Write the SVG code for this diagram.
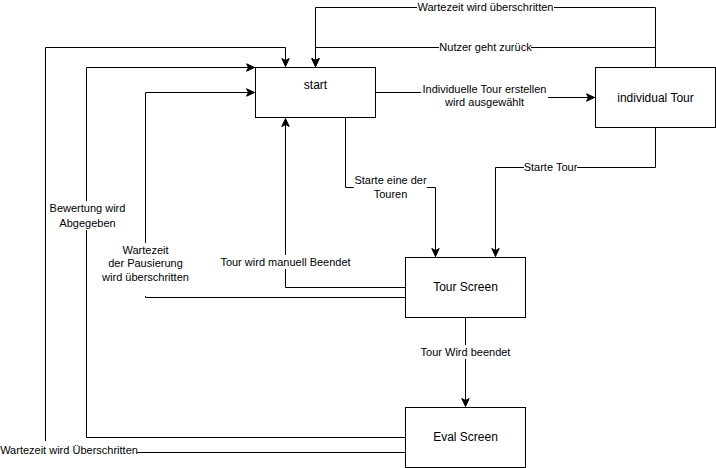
<svg xmlns="http://www.w3.org/2000/svg" width="716" height="468" viewBox="0 0 716 468">
<style>
.box{fill:#fff;stroke:#000;stroke-width:1}
.edge{fill:none;stroke:#000;stroke-width:1}
.bg{fill:#fff;stroke:none}
.nt{font-family:"Liberation Sans",Arial,sans-serif;font-size:12px;text-anchor:middle;fill:#000}
.lt{font-family:"Liberation Sans",Arial,sans-serif;font-size:11px;text-anchor:middle;fill:#000}
</style>
<defs>
<marker id="arr" markerUnits="userSpaceOnUse" markerWidth="9" markerHeight="9" viewBox="0 0 9 9" refX="8.5" refY="4.5" orient="auto">
<path d="M0.5,0.8 L8.5,4.5 L0.5,8.2 L2.5,4.5 Z" fill="#000" stroke="#000" stroke-width="1" stroke-linejoin="miter"/>
</marker>
</defs>
<rect width="716" height="468" fill="#fff"/>
<g id="connectors">
<path class="edge" d="M655.5,67.5 V7.5 H315.5 V66.5" marker-end="url(#arr)"/>
<path class="edge" d="M655.5,67.5 V47.5 H315.5 V66.5" marker-end="url(#arr)"/>
<path class="edge" d="M405.5,452.5 H45.5 V47.5 H285.5 V66.5" marker-end="url(#arr)"/>
<path class="edge" d="M405.5,437.5 H86.5 V67.5 H254.5" marker-end="url(#arr)"/>
<path class="edge" d="M405.5,297.5 H145.5 V92.5 H254.5" marker-end="url(#arr)"/>
<path class="edge" d="M405.5,287.5 H285.5 V118.5" marker-end="url(#arr)"/>
<path class="edge" d="M345.5,117.5 V187.5 H435.5 V256.5" marker-end="url(#arr)"/>
<path class="edge" d="M655.5,127.5 V167.5 H495.5 V256.5" marker-end="url(#arr)"/>
<path class="edge" d="M375.5,92.5 H485.5 V97.5 H594.5" marker-end="url(#arr)"/>
<path class="edge" d="M465.5,317.5 V406.5" marker-end="url(#arr)"/>
<g id="edge-labels">
<rect class="bg" x="417" y="0" width="137" height="14"/>
<text class="lt" x="485.5" y="11">Wartezeit wird überschritten</text>
<rect class="bg" x="439" y="41" width="92" height="13"/>
<text class="lt" x="485.5" y="51">Nutzer geht zurück</text>
<rect class="bg" x="421" y="82" width="127" height="27"/>
<text class="lt" x="484.5" y="93">Individuelle Tour erstellen</text>
<text class="lt" x="484.5" y="106">wird ausgewählt</text>
<rect class="bg" x="524" y="161" width="53" height="13"/>
<text class="lt" x="550.5" y="171">Starte Tour</text>
<rect class="bg" x="354" y="173" width="73" height="28"/>
<text class="lt" x="390.5" y="184">Starte eine der</text>
<text class="lt" x="390.5" y="198">Touren</text>
<rect class="bg" x="219" y="255" width="133" height="14"/>
<text class="lt" x="285.5" y="266">Tour wird manuell Beendet</text>
<rect class="bg" x="420" y="345" width="91" height="14"/>
<text class="lt" x="465.5" y="356">Tour Wird beendet</text>
<rect class="bg" x="48" y="201" width="78" height="29"/>
<text class="lt" x="87.5" y="212">Bewertung wird</text>
<text class="lt" x="87.5" y="227">Abgegeben</text>
<rect class="bg" x="100" y="243" width="91" height="53"/>
<text class="lt" x="145.5" y="254">Wartezeit</text>
<text class="lt" x="145.5" y="267">der Pausierung</text>
<text class="lt" x="145.5" y="281">wird überschritten</text>
<rect class="bg" x="0" y="441" width="137" height="18"/>
<text class="lt" x="69" y="454">Wartezeit wird Überschritten</text>
</g>
</g>
<g id="start">
<rect class="box" x="255.5" y="67.5" width="120" height="50"/>
<text class="nt" x="315.5" y="89">start</text>
</g>
<g id="individual-tour">
<rect class="box" x="595.5" y="67.5" width="120" height="60"/>
<text class="nt" x="655.5" y="101.5">individual Tour</text>
</g>
<g id="tour-screen">
<rect class="box" x="405.5" y="257.5" width="120" height="60"/>
<text class="nt" x="465.5" y="291">Tour Screen</text>
</g>
<g id="eval-screen">
<rect class="box" x="405.5" y="407.5" width="120" height="60"/>
<text class="nt" x="465.5" y="441">Eval Screen</text>
</g>
</svg>
